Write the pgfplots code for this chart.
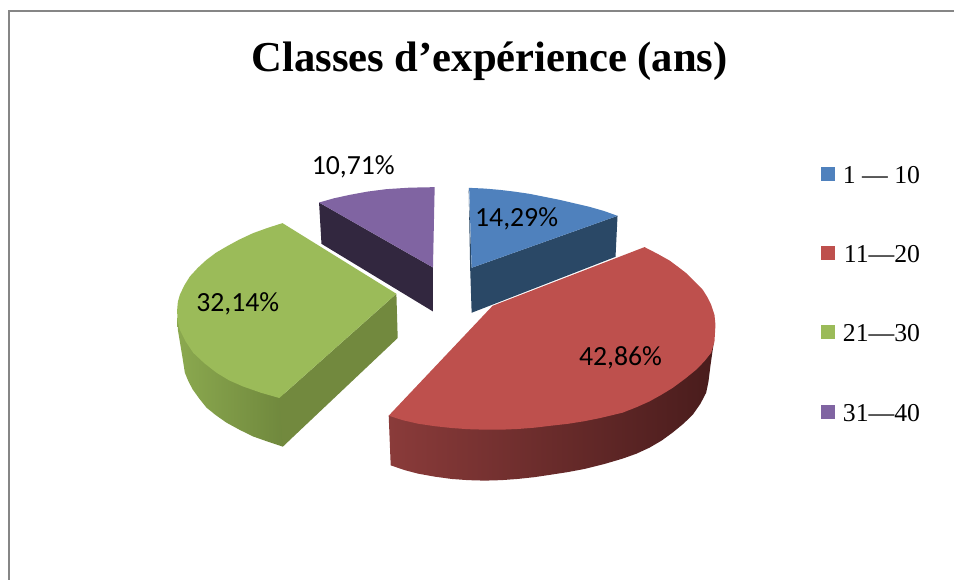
\documentclass[border=0pt]{standalone}
\usepackage{fontspec}
\setmainfont{Liberation Serif}
\newfontfamily\carlito{Carlito}
\usepackage{pgfplots}
\pgfplotsset{compat=1.18}
\definecolor{cblue}{HTML}{4F81BD}
\definecolor{cbluedk}{HTML}{2A4866}
\definecolor{cred}{HTML}{BE504D}
\definecolor{credL}{HTML}{8A3B3A}
\definecolor{credM}{HTML}{582323}
\definecolor{credR}{HTML}{491C1C}
\definecolor{cgreen}{HTML}{9BBB59}
\definecolor{cgreenL}{HTML}{8BA94F}
\definecolor{cgreenR}{HTML}{6E863C}
\definecolor{cgreendk}{HTML}{72893E}
\definecolor{cpurple}{HTML}{8064A2}
\definecolor{cpurpledk}{HTML}{32273F}
\definecolor{cframe}{HTML}{868686}
\begin{document}
\begin{tikzpicture}
\begin{axis}[
  width=716.25pt, height=435pt, scale only axis,
  xmin=0, xmax=955, ymin=0, ymax=580, y dir=reverse,
  axis lines=none, clip=false,
]
\path (axis cs:0,0) rectangle (axis cs:955,580);
% frame
\addplot[draw=cframe, line width=1.1pt] coordinates {(9,580) (9,11) (955,11)};
% 31-40 (10,71 %)
\addplot[fill=cpurpledk, draw=none] coordinates {(319.3,202.7) (433.3,267.7) (433.3,311.7) (321.7,244)};
\addplot[fill=cpurple, draw=none] coordinates {(319.3,202.7) (334,198.5) (350,195) (368,191.7) (386.7,189.3) (410,187.8) (435,187.3) (433.3,267.7)};
% 1-10 (14,29 %)
\addplot[fill=cbluedk, draw=none] coordinates {(469,188) (472,268) (618,216) (616,257) (472,313) (470.5,268)};
\addplot[fill=cblue, draw=none] coordinates {(469.5,188) (485,188.7) (500,190) (515,191.8) (530,194) (545,197) (560,200) (575,203.5) (590,207) (604,211) (618,216) (472,268)};
% 21-30 (32,14 %)
\addplot[left color=cgreenL, right color=cgreenR, draw=none] coordinates {(290,400) (290,440) (283,447) (268,442) (253,436.7) (239.5,430) (226.7,423) (216,415.5) (206.7,408) (199.5,399) (193,390) (188.5,381.5) (185,373) (182.5,357) (180.5,345) (178,330) (177.5,318) (230,330)};
\addplot[fill=cgreendk, draw=none] coordinates {(396.7,294) (398,338.3) (283,447) (279.5,398.3)};
\addplot[fill=cgreen, draw=none] coordinates {(279.5,398.3) (261,393) (243,386.7) (229,380.5) (216.7,373) (204.5,363.5) (193.3,353) (186,342) (180,330) (177.5,320) (177.3,310) (178,302) (180,295) (184.5,285.5) (190,276.7) (198,268) (206.7,260) (216,253) (226.7,246.7) (239,240) (253.3,233.3) (268,228) (282.7,223.3) (396.7,294)};
% 11-20 (42,86 %)
\addplot[left color=credL, middle color=credM, right color=credR, draw=none] coordinates {(389,416) (391,465.7) (405,470.5) (418.3,474) (435,477) (451.7,479.3) (468,480.5) (485,481) (502,480.5) (518.3,479.3) (535,477.5) (551.7,475) (568,472.5) (585,469.3) (605,464.3) (623,459) (637,454) (650,448) (662,441) (673,433) (684,424) (693.3,415) (701,404) (706.7,393) (709,382) (711,366) (713,352) (714.5,342) (600,350)};
\addplot[fill=cred, draw=none] coordinates {(389,416) (403,420.5) (418.3,424) (435,426.5) (451.7,428.3) (468,429.5) (485,430) (502,430) (518.3,429.3) (535,428) (551.7,426) (568,424.2) (585,421.5) (600,418.5) (623,413) (637,407.5) (650,401.7) (662,395) (673,388.3) (685,379.5) (696.7,370) (705,361.5) (711.7,353) (715,342) (716,325) (715,315) (711.7,305) (708,297.5) (703.3,290) (695,281.5) (686.7,273.3) (678.5,267) (670,260.7) (658,254) (645,247.3) (493,306)};
% legend keys
\addplot[fill=cblue, draw=none] coordinates {(822,167) (836,167) (836,181) (822,181)};
\addplot[fill=cred, draw=none] coordinates {(822,246) (836,246) (836,260) (822,260)};
\addplot[fill=cgreen, draw=none] coordinates {(822,325) (836,325) (836,339) (822,339)};
\addplot[fill=cpurple, draw=none] coordinates {(822,405) (836,405) (836,419) (822,419)};
% texts
\node[anchor=base, inner sep=0pt, font=\fontsize{32}{38}\selectfont\bfseries] at (axis cs:490,72) {Classes d’expérience (ans)};
\node[anchor=base east, inner sep=0pt, font=\fontsize{19.3}{23}\selectfont] at (axis cs:921,183.3) {1 — 10};
\node[anchor=base east, inner sep=0pt, font=\fontsize{19.3}{23}\selectfont] at (axis cs:921,263) {11—20};
\node[anchor=base east, inner sep=0pt, font=\fontsize{19.3}{23}\selectfont] at (axis cs:921,342) {21—30};
\node[anchor=base east, inner sep=0pt, font=\fontsize{19.3}{23}\selectfont] at (axis cs:921,421.7) {31—40};
\node[anchor=base, inner sep=0pt, font=\fontsize{20.8}{25}\selectfont\carlito] at (axis cs:353.5,175) {10,71\%};
\node[anchor=base, inner sep=0pt, font=\fontsize{20.8}{25}\selectfont\carlito] at (axis cs:517,227) {14,29\%};
\node[anchor=base, inner sep=0pt, font=\fontsize{20.8}{25}\selectfont\carlito] at (axis cs:621,366) {42,86\%};
\node[anchor=base, inner sep=0pt, font=\fontsize{20.8}{25}\selectfont\carlito] at (axis cs:238,312) {32,14\%};
\end{axis}
\end{tikzpicture}
\end{document}
